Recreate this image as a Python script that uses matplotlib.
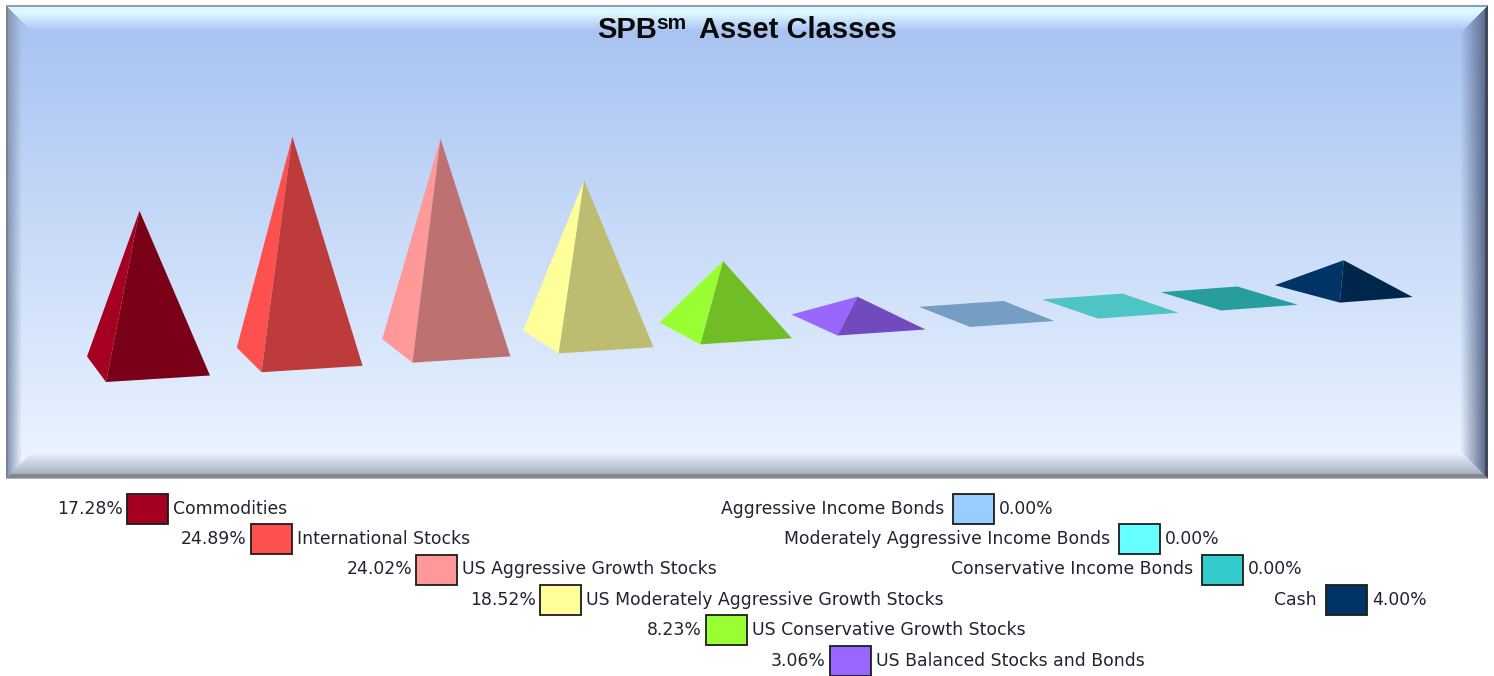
import numpy as np
import matplotlib
matplotlib.use("Agg")
import matplotlib.pyplot as plt
from matplotlib.patches import Polygon, Rectangle

W, H = 1494, 676

# chart values
categories = ["Commodities", "International Stocks", "US Aggressive Growth Stocks",
              "US Moderately Aggressive Growth Stocks", "US Conservative Growth Stocks",
              "US Balanced Stocks and Bonds", "Aggressive Income Bonds",
              "Moderately Aggressive Income Bonds", "Conservative Income Bonds", "Cash"]
values = [17.28, 24.89, 24.02, 18.52, 8.23, 3.06, 0.00, 0.00, 0.00, 4.00]
colors = ["#A50021", "#FF5050", "#FF9999", "#FFFF99", "#99FF33",
          "#9966FF", "#99CCFF", "#66FFFF", "#33CCCC", "#003366"]

# legend layout, left x of each swatch
swatch_x = [127, 251, 416, 540, 706, 830, 953, 1119, 1202, 1326]
row_y = [494, 524, 554.5, 585, 615, 646, 493.5, 524, 554.5, 585]


def shade(color, f=0.74):
    r, g, b = matplotlib.colors.to_rgb(color)
    return (r * f, g * f, b * f)


def rgb(c):
    return np.array(matplotlib.colors.to_rgb(c))


def mix(a, b, t):
    # a, b are colours or arrays of colours
    a = rgb(a) if isinstance(a, str) else a
    b = rgb(b) if isinstance(b, str) else b
    t = np.clip(t, 0, 1)[..., None]
    return a * (1 - t) + b * t


def frame_image():
    # panel gradient with the bevel on all four sides
    x0, x1, y0, y1 = 6, 1488, 5, 479
    bev = 29
    xx, yy = np.meshgrid(np.arange(x0, x1) + 0.5, np.arange(y0, y1) + 0.5)
    body = mix("#A9C4F2", "#EAF3FF", (yy - 30) / 425)
    img = body.copy()

    dl, dr = xx - x0, x1 - xx
    dt, db = yy - y0, y1 - yy
    dmin = np.minimum.reduce([dl, dr, dt, db])
    t = dmin < bev

    top = t & (dt == dmin)
    bottom = t & (db == dmin) & ~top
    left = t & (dl == dmin) & ~top & ~bottom
    right = t & (dr == dmin) & ~top & ~bottom

    img[top] = mix("#DDF8FF", "#A9C4F2", (dt[top] - 8) / 18)
    img[top & (dt < 2.5)] = rgb("#8C9CC0")

    img[bottom] = mix("#A8B0C0", "#EAF2FF", (db[bottom] - 5) / 21)
    img[bottom & (db < 5)] = rgb("#808890")
    img[bottom & (db < 1.5)] = rgb("#B0B0B0")

    img[left] = mix("#8898B4", body[left], (dl[left] - 2) / 14)
    img[left & (dl < 2.5)] = rgb("#7A8498")

    img[right] = mix("#5E6E90", body[right], (dr[right] - 3) / 25)
    img[right & (dr < 3.5)] = rgb("#404858")
    return img, (x0, x1, y1, y0)


def base_corners(i):
    # base of the pyramid at column i, in the slanted view of the chart
    cx = 148.5 + 153.5 * i - 2.3 * i ** 2
    cy = 366 - 9.4 * i + 0.12 * i ** 2
    w = 123 + 2.9 * i - 0.14 * i ** 2
    s = 19 - 0.8 * i
    left = np.array([cx - w / 2, cy - s / 2])
    right = np.array([cx + w / 2, cy + s / 2])
    front = np.array([cx - 42.5 + 4.3 * i, cy + 16 - 0.5 * i])
    return left, front, right, np.array([cx, cy])


fig = plt.figure(figsize=(W / 100, H / 100), dpi=100)
ax = fig.add_axes([0, 0, 1, 1])
ax.axis("off")

img, extent = frame_image()
ax.imshow(img, extent=extent, aspect="auto", interpolation="nearest", zorder=1)
ax.set_xlim(0, W)
ax.set_ylim(H, 0)

# pyramids, height follows the value
for i, (val, col) in enumerate(zip(values, colors)):
    left, front, right, center = base_corners(i)
    if val == 0:
        back = left + right - front
        ax.add_patch(Polygon([left, front, right, back], closed=True, fc=shade(col, 0.77), ec="none", zorder=3))
        continue
    apex = center + [min(0, -9 + 1.6 * i), -val * (8.98 - 0.14 * i)]
    ax.add_patch(Polygon([left, front, apex], closed=True, fc=col, ec="none", zorder=3))
    ax.add_patch(Polygon([front, right, apex], closed=True, fc=shade(col), ec="none", zorder=3))

# title
title_kw = dict(fontweight="bold", family="Liberation Sans", va="baseline", ha="left", color="#0a0a0a", zorder=5)
ax.text(597, 37.5, "SPB", fontsize=21, **title_kw)
ax.text(656, 29, "sm", fontsize=15, **title_kw)
ax.text(699, 37.5, "Asset Classes", fontsize=21, **title_kw)

# legend, first six read value-swatch-name, the rest name-swatch-value
for i, (name, val, col) in enumerate(zip(categories, values, colors)):
    x, y = swatch_x[i], row_y[i]
    ax.add_patch(Rectangle((x, y), 41, 30, fc=col, ec="#1c1c1c", lw=1.3, zorder=3))
    ym = y + 15
    pct = f"{val:.2f}%"
    if i < 6:
        ax.text(x - 4, ym, pct, ha="right", va="center", fontsize=12.4, color="#222233")
        ax.text(x + 46, ym, name, ha="left", va="center", fontsize=12.4, color="#222233")
    else:
        ax.text(x - 9, ym, name, ha="right", va="center", fontsize=12.4, color="#222233")
        ax.text(x + 46, ym, pct, ha="left", va="center", fontsize=12.4, color="#222233")

fig.savefig("out.png", dpi=100)
